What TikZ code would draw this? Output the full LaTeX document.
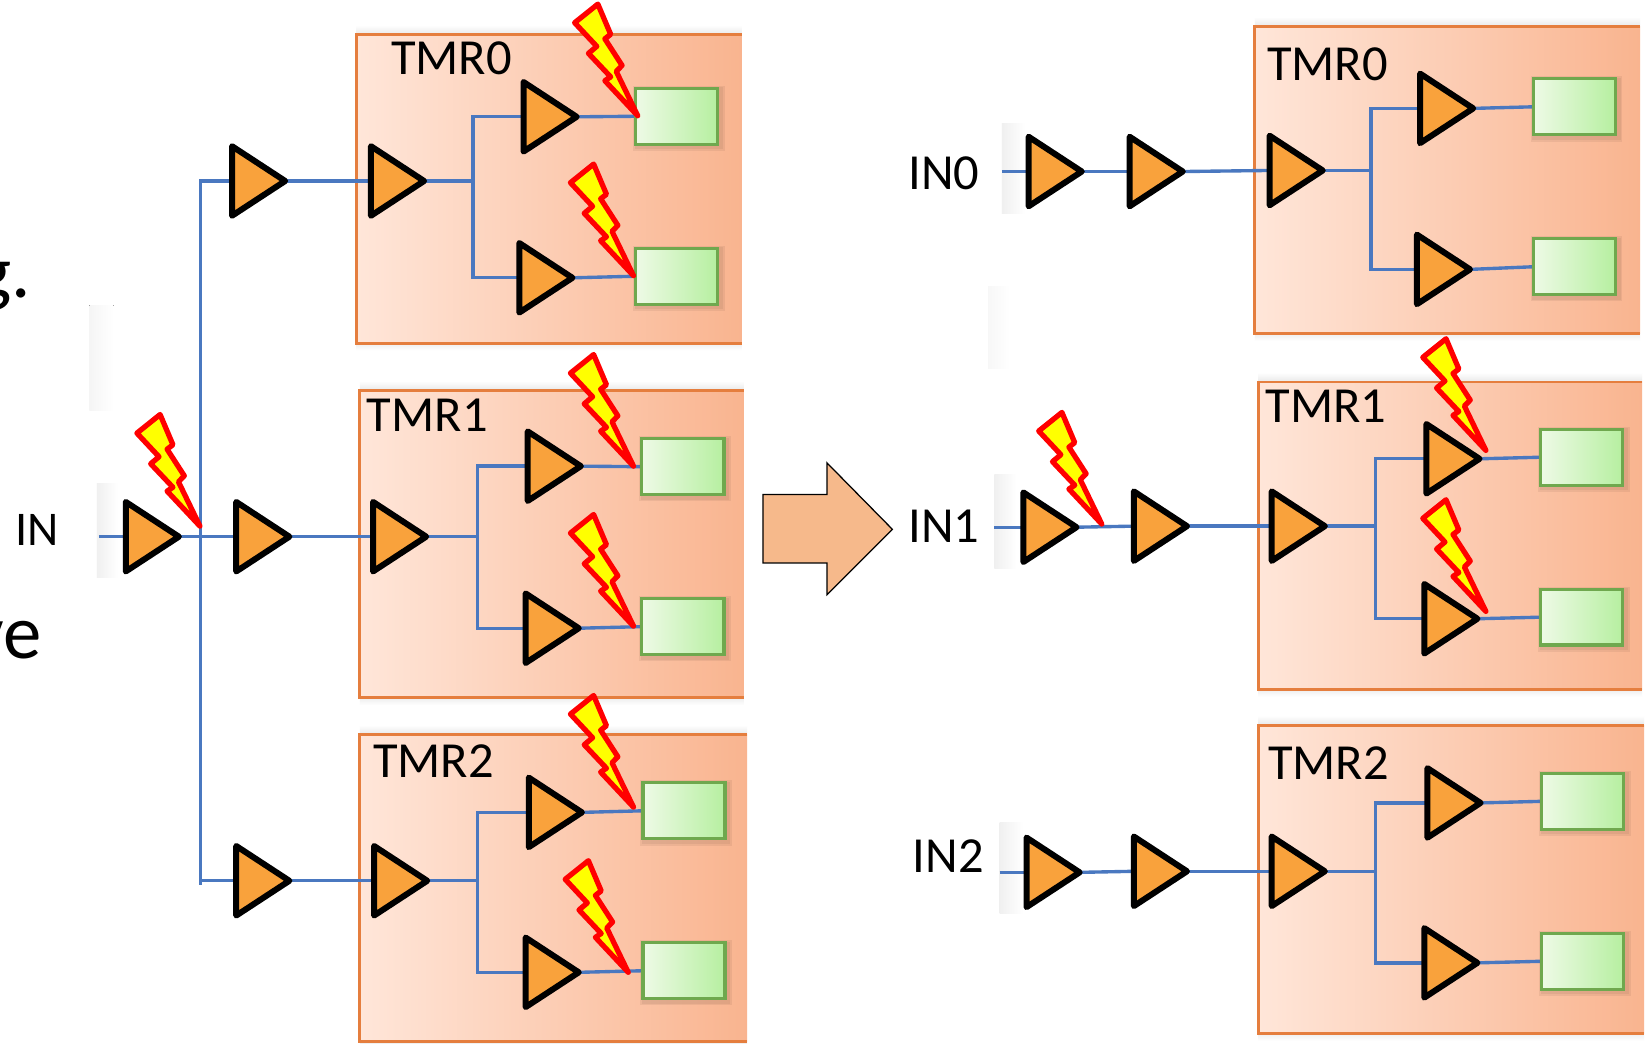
\documentclass[tikz,border=0pt]{standalone}
\usepackage{fontspec}
\setmainfont{Carlito}
\usetikzlibrary{shapes.geometric}
\pgfdeclarelayer{boxes}
\pgfdeclarelayer{wires}
\pgfsetlayers{boxes,wires,main}
\definecolor{bufFill}{HTML}{F9A23C}
\definecolor{wire}{HTML}{4A78C0}
\definecolor{boxLine}{HTML}{E57E3E}
\definecolor{boxL}{HTML}{FFE6D9}
\definecolor{boxR}{HTML}{F9B48F}
\definecolor{sinkLine}{HTML}{6FA84E}
\definecolor{sinkL}{HTML}{EEFAE6}
\definecolor{sinkR}{HTML}{B6EFA0}
\definecolor{arrowFill}{HTML}{F6B98B}
\definecolor{boltFill}{HTML}{FFFF00}
\tikzset{
  buf/.style={draw=black,fill=bufFill,line width=5.7pt,line join=round,isosceles triangle,
    isosceles triangle apex angle=66.4,minimum height=50.5pt,inner sep=0pt,outer sep=0pt,
    anchor=apex,shape border rotate=0,xshift=-4pt},
  sig/.style={draw=wire,line width=3.2pt},
  tmrbox/.style={left color=boxL,right color=boxR,rectangle,inner sep=0pt,outer sep=0pt,anchor=north west},
  tmredge/.style={draw=boxLine,line width=2.8pt},
  halo/.style={preaction={draw=black!45!boxR,draw opacity=.12,line width=#1,fill opacity=0,transform canvas={xshift=2pt,yshift=-2pt}}},
  sink/.style={draw=sinkLine,line width=3pt,left color=sinkL,right color=sinkR,rectangle,inner sep=0pt,outer sep=0pt,
    anchor=north west,minimum width=78pt,minimum height=53pt,halo=9pt,halo=6pt},
  lbl/.style={font=\fontsize{48}{48}\selectfont,inner sep=0pt,text=black},
  big/.style={font=\fontsize{73}{73}\selectfont,inner sep=0pt,text=black,anchor=base east},
  bolt/.pic={\path[draw=red,fill=boltFill,line width=5pt,line join=round,scale=1.04]
    (0,0)--(-30,-32)--(-24.7,-35.5)--(-45,-57)--(-37.4,-63.4)--(-57.6,-85)--(-36.4,-102)--(-24.7,-74.4)--(-30,-70.3)--(-14.3,-46)--(-19.6,-40.5)--cycle;},
  haze/.style={left color=black!6,right color=white,draw=none}
}
\newcommand{\tmrframe}[1]{%
  \shade[top color=white,bottom color=black!9] ([yshift=9pt]#1.north west) rectangle (#1.north east);
  \shade[top color=black!7,bottom color=white] (#1.south west) rectangle ([yshift=-7pt]#1.south east);
  \draw[tmredge] (#1.north east) -- (#1.north west) -- (#1.south west) -- (#1.south east);}
\begin{document}
\begin{tikzpicture}[x=1pt,y=-1pt]
\useasboundingbox (0,0) rectangle (1568,992);
% faint remnants
\begin{pgfonlayer}{boxes}
\fill[white] (0,0) rectangle (1568,992);
\fill[haze] (92,459) rectangle (112,549);
\fill[haze] (952,117) rectangle (974,203);
\fill[haze] (945,451) rectangle (966,540);
\fill[haze] (950,782) rectangle (972,868);
\fill[left color=black!4,right color=white] (85,290) rectangle (108,390);
\fill[left color=black!3,right color=white] (939,272) rectangle (960,350);
% boxes
\node[tmrbox,minimum width=366pt,minimum height=293pt] (LB0) at (339,33) {};
\node[tmrbox,minimum width=365pt,minimum height=292pt] (LB1) at (342,371) {};
\node[tmrbox,minimum width=368pt,minimum height=292pt] (LB2) at (342,698) {};
\node[tmrbox,minimum width=366pt,minimum height=292pt] (RB0) at (1192.5,25) {};
\node[tmrbox,minimum width=365pt,minimum height=292pt] (RB1) at (1195.5,363) {};
\node[tmrbox,minimum width=367pt,minimum height=293pt] (RB2) at (1195.5,689) {};
\tmrframe{LB0}\tmrframe{LB1}\tmrframe{LB2}\tmrframe{RB0}\tmrframe{RB1}\tmrframe{RB2}
\end{pgfonlayer}
% cut-off text
\node[big] (frag1) at (30,283) {g.};
\node[big] (frag2) at (40,626) {ve};
% labels
\node[lbl] (tl0) at (429,55) {TMR0};
\node[lbl] (tl1) at (406,395) {TMR1};
\node[lbl] (tl2) at (412,723) {TMR2};
\node[lbl] (tr0) at (1261.5,61) {TMR0};
\node[lbl] (tr1) at (1260,386) {TMR1};
\node[lbl] (tr2) at (1262.5,725) {TMR2};
\node[lbl,font=\fontsize{46}{46}\selectfont,anchor=base] (in) at (35,518) {IN};
\node[lbl] (in0) at (897,165) {IN0};
\node[lbl] (in1) at (897,500) {IN1};
\node[lbl] (in2) at (901,814) {IN2};
% buffers, left
\node[buf] (a) at (174,510) {};
\node[buf] (b0) at (275,172) {};
\node[buf] (b1) at (279,510) {};
\node[buf] (b2) at (279,837) {};
\node[buf] (c0) at (407,172) {};
\node[buf] (d0) at (552,111) {};
\node[buf] (e0) at (548,264) {};
\node[buf] (c1) at (409,510) {};
\node[buf] (d1) at (556,443) {};
\node[buf] (e1) at (554,597) {};
\node[buf] (c2) at (410,837) {};
\node[buf] (d2) at (557,772) {};
\node[buf] (e2) at (554,924) {};
% buffers, right
\node[buf] (fa0) at (1032,163) {};
\node[buf] (fb0) at (1128,163) {};
\node[buf] (fc0) at (1261,162) {};
\node[buf] (fd0) at (1404,103) {};
\node[buf] (fe0) at (1401,256) {};
\node[buf] (fa1) at (1027,501) {};
\node[buf] (fb1) at (1132,500) {};
\node[buf] (fc1) at (1263,500) {};
\node[buf] (fd1) at (1410,436) {};
\node[buf] (fe1) at (1408,588) {};
\node[buf] (fa2) at (1030,829) {};
\node[buf] (fb2) at (1132,828) {};
\node[buf] (fc2) at (1263,828) {};
\node[buf] (fd2) at (1411,763) {};
\node[buf] (fe2) at (1408,915) {};
% sinks
\node[sink] (s0u) at (604,84) {};
\node[sink] (s0l) at (604,236) {};
\node[sink] (s1u) at (610,417) {};
\node[sink] (s1l) at (610,569) {};
\node[sink] (s2u) at (611,744) {};
\node[sink] (s2l) at (611,896) {};
\node[sink] (r0u) at (1457,75) {};
\node[sink] (r0l) at (1457,227) {};
\node[sink] (r1u) at (1464,408) {};
\node[sink] (r1l) at (1464,560) {};
\node[sink] (r2u) at (1465,735) {};
\node[sink] (r2l) at (1465,887) {};
% wire junctions
\coordinate (inS) at (94,510);
\coordinate (bus) at (190.5,510);
\coordinate (busEnd) at (190.5,841);
\coordinate (j0) at (449.5,172);
\coordinate (j1) at (453.5,510);
\coordinate (j2) at (453.5,837);
\coordinate (k0) at (1303,162);
\coordinate (k1) at (1307,500);
\coordinate (k2) at (1307,828);
\coordinate (inS0) at (952,163);
\coordinate (inS1) at (945,501);
\coordinate (inS2) at (950,829);
\begin{pgfonlayer}{wires}
% wires, left
\draw[sig] (inS) -- (a.lower side);
\draw[sig] (a.apex) -- (b1.lower side);
\draw[sig] (b0.lower side) -| (busEnd);
\draw[sig] (bus |- b2.lower side) -- (b2.lower side);
\foreach \n/\j in {0/j0,1/j1,2/j2}{
  \draw[sig] (b\n.apex) -- (c\n.lower side);
  \draw[sig] (c\n.apex) -- (\j);
  \draw[sig] (d\n.lower side) -| (\j);
  \draw[sig] (e\n.lower side) -| (\j);
  \draw[sig] (d\n.apex) -- (s\n u.west);
  \draw[sig] (e\n.apex) -- (s\n l.west);
}
% wires, right
\foreach \n/\j in {0/k0,1/k1,2/k2}{
  \draw[sig] (inS\n) -- (fa\n.lower side);
  \draw[sig] (fa\n.apex) -- (fb\n.lower side);
  \draw[sig] (fb\n.apex) -- (fc\n.lower side);
  \draw[sig] (fc\n.apex) -- (\j);
  \draw[sig] (fd\n.lower side) -| (\j);
  \draw[sig] (fe\n.lower side) -| (\j);
  \draw[sig] (fd\n.apex) -- (r\n u.west);
  \draw[sig] (fe\n.apex) -- (r\n l.west);
}
\end{pgfonlayer}
% big arrow
\draw[fill=arrowFill,draw=black,line width=1.2pt,miter limit=10]
  (725,470)--(786,470)--(786,440)--(848,503)--(786,565)--(786,535)--(725,535)--cycle;
% bolts
\foreach \p in {(190,500),(606,110),(602,262),(602,443),(602,595),(602,767),(597,924),(1047,498),(1412,428),(1412,581)}
  \pic at \p {bolt};
\end{tikzpicture}
\end{document}
